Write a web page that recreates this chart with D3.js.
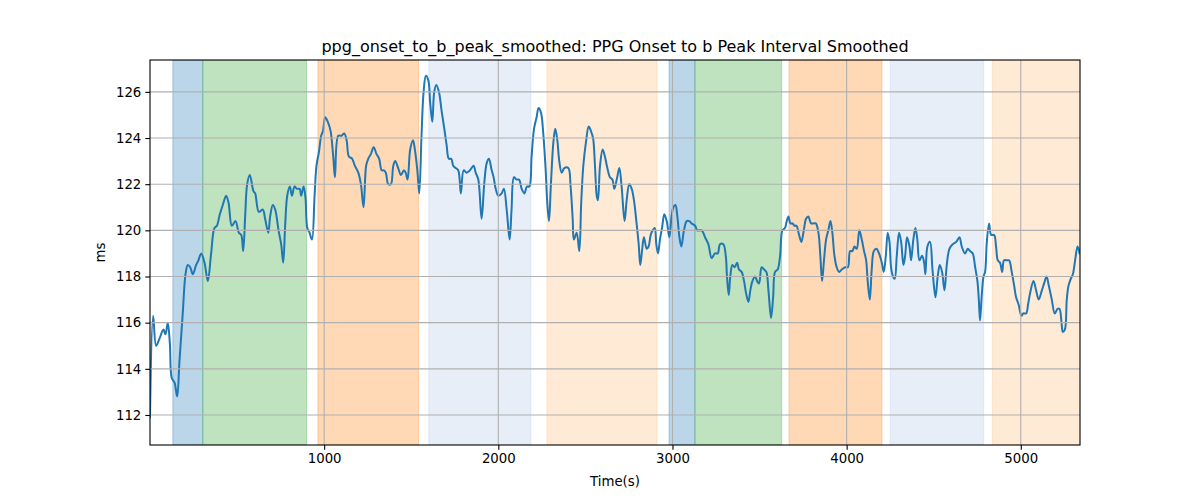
<!DOCTYPE html>
<html>
<head>
<meta charset="utf-8">
<script src="https://cdn.jsdelivr.net/npm/d3@7"></script>
<style>
  body { margin: 0; background: #fff; }
  text { font-family: "DejaVu Sans", sans-serif; }
</style>
</head>
<body>
<div id="chart"></div>
<script>
// time (s) and smoothed interval (ms)
const times = [0, 18, 35, 54, 77, 89, 102, 114, 125, 141, 156, 169, 188, 204, 217, 231, 246, 265, 278, 294,
  313, 332, 351, 370, 384, 401, 418, 437, 451, 470, 491, 510, 524, 535, 547, 558, 573, 594, 604, 625,
  648, 661, 679, 690, 705, 719, 738, 753, 765, 776, 788, 803, 815, 830, 843, 859, 868, 882, 893, 903,
  916, 930, 945, 956, 970, 983, 993, 1006, 1021, 1037, 1052, 1062, 1081, 1100, 1115, 1129, 1142, 1161, 1176, 1196,
  1211, 1226, 1241, 1253, 1268, 1284, 1301, 1316, 1330, 1343, 1354, 1368, 1383, 1397, 1408, 1425, 1441, 1458, 1468, 1479,
  1494, 1510, 1521, 1535, 1546, 1559, 1571, 1584, 1598, 1609, 1621, 1632, 1644, 1659, 1674, 1690, 1703, 1716, 1730, 1741,
  1755, 1770, 1785, 1801, 1818, 1837, 1858, 1870, 1885, 1904, 1919, 1933, 1946, 1962, 1973, 1985, 2000, 2019, 2032, 2048,
  2065, 2076, 2090, 2105, 2119, 2134, 2150, 2164, 2178, 2191, 2205, 2220, 2231, 2245, 2258, 2272, 2281, 2291, 2302, 2316,
  2327, 2339, 2350, 2364, 2379, 2402, 2415, 2427, 2434, 2450, 2465, 2476, 2488, 2503, 2519, 2532, 2544, 2555, 2565, 2572,
  2584, 2599, 2612, 2626, 2641, 2655, 2666, 2680, 2695, 2708, 2725, 2737, 2752, 2766, 2779, 2794, 2806, 2815, 2825, 2836,
  2852, 2863, 2875, 2886, 2898, 2907, 2917, 2928, 2940, 2953, 2967, 2982, 2995, 3005, 3017, 3028, 3040, 3051, 3066, 3082,
  3097, 3110, 3130, 3143, 3168, 3187, 3206, 3225, 3244, 3260, 3273, 3292, 3306, 3313, 3323, 3332, 3344, 3357, 3371, 3382,
  3397, 3411, 3422, 3436, 3447, 3459, 3474, 3486, 3497, 3512, 3526, 3539, 3551, 3566, 3578, 3589, 3604, 3618, 3631, 3646,
  3656, 3666, 3677, 3689, 3700, 3712, 3727, 3740, 3754, 3767, 3780, 3796, 3809, 3823, 3838, 3849, 3859, 3870, 3882, 3895,
  3907, 3918, 3930, 3943, 3957, 3972, 3991, 4007, 4020, 4033, 4045, 4058, 4073, 4087, 4100, 4112, 4121, 4133, 4144, 4156,
  4171, 4186, 4202, 4213, 4225, 4236, 4246, 4259, 4276, 4288, 4301, 4313, 4326, 4336, 4347, 4361, 4370, 4383, 4395, 4406,
  4418, 4433, 4445, 4452, 4464, 4479, 4493, 4510, 4523, 4535, 4548, 4562, 4575, 4590, 4609, 4629, 4648, 4661, 4680, 4696,
  4709, 4724, 4738, 4751, 4759, 4766, 4776, 4786, 4795, 4805, 4818, 4830, 4847, 4858, 4868, 4881, 4893, 4904, 4920, 4933,
  4948, 4962, 4973, 4987, 5004, 5015, 5031, 5042, 5054, 5073, 5088, 5103, 5121, 5134, 5148, 5161, 5178, 5195, 5211, 5222,
  5234, 5241, 5253, 5264, 5274, 5287, 5299, 5312, 5326, 5338];

const values = [111.9, 116.3, 115.0, 115.3, 115.7, 115.5, 116.0, 115.1, 113.6, 113.4, 112.8, 114.3, 116.4, 118.1, 118.5, 118.4, 118.1, 118.5, 118.7, 119.0,
  118.6, 117.8, 119.0, 120.1, 120.2, 120.7, 121.1, 121.5, 121.2, 120.2, 120.4, 119.9, 119.8, 119.1, 120.7, 122.0, 122.4, 121.7, 121.6, 120.8,
  120.9, 120.5, 119.9, 120.6, 121.1, 120.9, 120.0, 119.4, 118.6, 120.2, 121.5, 121.9, 121.5, 121.9, 121.8, 121.8, 121.5, 121.9, 121.4, 120.1,
  119.9, 119.6, 121.5, 122.8, 123.4, 124.1, 124.3, 124.9, 124.7, 124.3, 123.2, 122.3, 124.1, 124.1, 124.2, 123.9, 123.2, 123.1, 122.8, 122.5,
  122.0, 121.0, 122.8, 123.1, 123.3, 123.6, 123.3, 123.1, 122.6, 122.6, 122.5, 122.0, 122.0, 122.8, 123.0, 122.7, 122.4, 122.6, 122.5, 122.2,
  123.5, 123.9, 123.5, 122.6, 121.6, 124.1, 126.0, 126.7, 126.5, 125.5, 124.7, 126.0, 126.3, 126.0, 125.2, 124.4, 123.7, 123.1, 123.1, 122.8,
  122.7, 122.6, 121.6, 122.6, 122.5, 122.6, 122.8, 122.5, 122.2, 120.5, 122.0, 122.9, 123.1, 122.6, 122.3, 121.8, 121.5, 121.6, 121.8, 120.9,
  119.6, 120.9, 122.3, 122.2, 122.2, 121.8, 121.6, 121.9, 121.9, 123.2, 124.4, 124.9, 125.3, 125.1, 124.2, 122.6, 121.2, 120.4, 122.0, 123.8,
  124.4, 123.9, 123.0, 122.5, 122.7, 122.7, 121.9, 120.5, 119.6, 119.9, 119.1, 121.2, 122.8, 123.8, 124.5, 124.3, 124.0, 122.8, 121.5, 121.3,
  122.8, 123.5, 123.2, 122.7, 122.3, 122.2, 121.8, 122.2, 122.7, 121.9, 120.4, 121.3, 122.0, 121.8, 121.3, 120.3, 119.4, 118.5, 119.1, 119.7,
  119.2, 119.3, 119.8, 120.0, 120.1, 119.4, 119.0, 119.6, 120.1, 120.7, 120.4, 119.7, 120.6, 121.0, 121.1, 120.6, 119.7, 119.3, 120.0, 120.4,
  120.4, 120.3, 120.2, 120.0, 120.0, 119.7, 119.4, 118.8, 119.0, 119.0, 119.4, 119.4, 118.9, 118.0, 117.2, 118.0, 118.5, 118.4, 118.6, 118.3,
  118.2, 117.8, 117.3, 116.9, 117.4, 117.8, 118.0, 117.8, 117.7, 118.4, 118.3, 118.2, 117.4, 116.2, 117.1, 118.2, 118.3, 118.9, 120.0, 120.1,
  120.4, 120.6, 120.3, 120.3, 120.2, 120.2, 119.8, 119.5, 120.0, 120.5, 120.6, 120.3, 120.3, 120.3, 119.9, 118.9, 117.8, 118.7, 119.6, 120.0,
  120.4, 119.9, 118.9, 118.4, 118.2, 118.3, 118.4, 118.4, 119.1, 119.1, 119.3, 119.2, 120.0, 119.6, 119.1, 118.7, 117.8, 117.0, 118.3, 119.1,
  119.2, 119.0, 118.6, 118.2, 118.9, 119.9, 119.5, 118.2, 117.9, 118.9, 119.9, 119.5, 118.5, 118.9, 119.7, 119.3, 118.7, 119.6, 120.1, 119.6,
  118.7, 118.9, 118.6, 118.1, 119.3, 119.5, 118.3, 117.1, 118.0, 118.5, 118.2, 117.4, 118.5, 119.2, 119.4, 119.5, 119.7, 119.3, 119.0, 119.2,
  119.1, 119.0, 118.4, 117.8, 117.0, 116.1, 117.2, 118.0, 118.2, 119.5, 120.3, 119.8, 119.8, 119.3, 118.7, 118.6, 118.2, 118.7, 118.7, 118.7,
  118.2, 117.6, 117.1, 116.8, 116.3, 116.4, 116.4, 116.8, 117.3, 117.8, 117.4, 117.0, 117.4, 117.7, 118.0, 117.6, 117.0, 116.4, 116.6, 116.6,
  116.0, 115.6, 115.7, 117.0, 117.6, 117.9, 118.1, 118.7, 119.3, 119.0];

// shaded phases
const spanStart = [131, 303, 964, 1601, 2279, 2980, 3129, 3669, 4250, 4837];
const spanEnd   = [303, 899, 1542, 2187, 2911, 3129, 3627, 4203, 4787, 5345];
const spanKind  = [0, 1, 2, 3, 4, 0, 1, 2, 3, 4];

const xTicks = [1000, 2000, 3000, 4000, 5000];
const yTicks = [112, 114, 116, 118, 120, 122, 124, 126];

const titleText = "ppg_onset_to_b_peak_smoothed: PPG Onset to b Peak Interval Smoothed";

const width = 1200, height = 500;
const margin = {top: 60, right: 120, bottom: 55, left: 150};
const w = width - margin.left - margin.right;
const h = height - margin.top - margin.bottom;

const kindColor = ["#1f77b4", "#2ca02c", "#ff7f0e", "#aec7e8", "#ffbb78"];

const svg = d3.select("#chart").append("svg")
    .attr("width", width)
    .attr("height", height);

const g = svg.append("g")
    .attr("transform", "translate(" + margin.left + "," + margin.top + ")");

const x = d3.scaleLinear().domain([0, 5340]).range([0, w]);
const y = d3.scaleLinear().domain([110.7, 127.38]).range([h, 0]);

g.append("defs").append("clipPath").attr("id", "clip")
    .append("rect").attr("width", w).attr("height", h);

const plot = g.append("g").attr("clip-path", "url(#clip)");

plot.selectAll("rect.span")
    .data(spanStart.map((s, i) => ({s: s, e: spanEnd[i], k: spanKind[i]})))
    .enter()
    .append("rect")
    .attr("class", "span")
    .attr("x", d => x(d.s))
    .attr("width", d => x(d.e) - x(d.s))
    .attr("y", 0)
    .attr("height", h)
    .attr("fill", d => kindColor[d.k])
    .attr("fill-opacity", 0.3)
    .attr("stroke", d => kindColor[d.k])
    .attr("stroke-opacity", 0.3)
    .attr("stroke-width", 1);

// grid
g.append("g")
    .selectAll("line")
    .data(xTicks)
    .enter()
    .append("line")
    .attr("x1", d => x(d)).attr("x2", d => x(d))
    .attr("y1", 0).attr("y2", h)
    .attr("stroke", "#b0b0b0").attr("stroke-width", 1.1);

g.append("g")
    .selectAll("line")
    .data(yTicks)
    .enter()
    .append("line")
    .attr("x1", 0).attr("x2", w)
    .attr("y1", d => y(d)).attr("y2", d => y(d))
    .attr("stroke", "#b0b0b0").attr("stroke-width", 1.1);

const line = d3.line()
    .x((d, i) => x(times[i]))
    .y(d => y(d))
    .curve(d3.curveCatmullRom.alpha(0.5));

plot.append("path")
    .datum(values)
    .attr("d", line)
    .attr("fill", "none")
    .attr("stroke", "#1f77b4")
    .attr("stroke-width", 2)
    .attr("stroke-linejoin", "round")
    .attr("stroke-linecap", "square");

// axes
const xAxis = g.append("g")
    .attr("transform", "translate(0," + h + ")")
    .call(d3.axisBottom(x).tickValues(xTicks).tickSize(4.7).tickPadding(4).tickFormat(d3.format("d")));
const yAxis = g.append("g")
    .call(d3.axisLeft(y).tickValues(yTicks).tickSize(4.7).tickPadding(4).tickFormat(d3.format("d")));

[xAxis, yAxis].forEach(a => {
    a.select(".domain").remove();
    a.selectAll(".tick line").attr("stroke", "#000").attr("stroke-width", 1.1);
    a.selectAll(".tick text")
        .attr("fill", "#000")
        .style("font-size", "13.3px")
        .style("font-family", "DejaVu Sans");
});

g.append("rect")
    .attr("width", w).attr("height", h)
    .attr("fill", "none")
    .attr("stroke", "#000")
    .attr("stroke-width", 1.1);

svg.append("text")
    .attr("x", margin.left + w / 2)
    .attr("y", 52)
    .attr("text-anchor", "middle")
    .style("font-size", "16px")
    .text(titleText);

svg.append("text")
    .attr("x", margin.left + w / 2)
    .attr("y", 486)
    .attr("text-anchor", "middle")
    .style("font-size", "13.3px")
    .text("Time(s)");

svg.append("text")
    .attr("transform", "translate(105," + (margin.top + h / 2) + ") rotate(-90)")
    .attr("text-anchor", "middle")
    .style("font-size", "13.3px")
    .text("ms");
</script>
</body>
</html>
